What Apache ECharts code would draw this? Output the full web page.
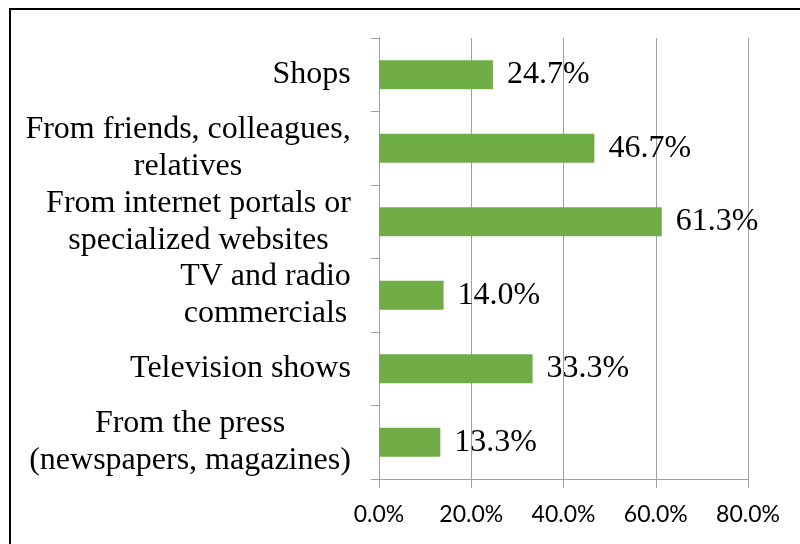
<!DOCTYPE html>
<html>
<head>
<meta charset="utf-8">
<script src="https://cdn.jsdelivr.net/npm/echarts@6/dist/echarts.min.js"></script>
<style>
  html, body { margin: 0; padding: 0; background: #fff; }
  #chart { width: 800px; height: 544px; }
</style>
</head>
<body>
<div id="chart"></div>
<script>
// Sources of information (share of respondents)
const categories = [
  'Shops',
  'From friends, colleagues,\nrelatives',
  'From internet portals or\nspecialized websites',
  'TV and radio\ncommercials',
  'Television shows',
  'From the press\n(newspapers, magazines)'
];
const values = [24.7, 46.7, 61.3, 14.0, 33.3, 13.3];
const xTicks = [0, 20, 40, 60, 80];

const serif = '"Liberation Serif", "Times New Roman", serif';
const labelSize = 32;

// Measure each label line so multi-line labels can be centred within their block
const ctx = document.createElement('canvas').getContext('2d');
ctx.font = labelSize + 'px ' + serif;
function blockWidth(text) {
  return Math.ceil(Math.max(...text.split('\n').map(l => ctx.measureText(l).width)));
}
const yData = categories.map((c, i) => {
  const w = blockWidth(c);
  const key = 'c' + i;
  return {
    value: c,
    textStyle: {
      rich: { [key]: { width: w, align: 'center', fontFamily: serif, fontSize: labelSize, lineHeight: 37, color: '#000' } }
    }
  };
});

const chart = echarts.init(document.getElementById('chart'), null, { renderer: 'canvas' });
chart.setOption({
  animation: false,
  backgroundColor: '#fff',
  grid: { left: 379, right: 52, top: 38, bottom: 65, containLabel: false },
  xAxis: {
    type: 'value',
    min: xTicks[0],
    max: xTicks[xTicks.length - 1],
    interval: 20,
    axisLine: { show: true, lineStyle: { color: '#a0a0a0', width: 1 } },
    axisTick: { show: true, length: 9, lineStyle: { color: '#a0a0a0' } },
    splitLine: { show: true, lineStyle: { color: '#a0a0a0', width: 1 } },
    axisLabel: {
      margin: 24,
      color: '#000',
      fontFamily: 'Lato, "Liberation Sans", sans-serif',
      fontSize: 23,
      formatter: v => v.toFixed(1) + '%'
    }
  },
  yAxis: {
    type: 'category',
    inverse: true,
    data: yData,
    axisLine: { show: true, lineStyle: { color: '#a0a0a0', width: 1 } },
    axisTick: { show: true, length: 8, lineStyle: { color: '#a0a0a0' } },
    axisLabel: {
      margin: 28,
      color: '#000',
      fontFamily: serif,
      fontSize: labelSize,
      lineHeight: 37,
      formatter: (v, i) => v.split('\n').map(l => '{c' + i + '|' + l + '}').join('\n')
    }
  },
  series: [{
    type: 'bar',
    data: values,
    barWidth: 29,
    itemStyle: { color: '#70ad47' },
    label: {
      show: true,
      position: 'right',
      distance: 14,
      color: '#000',
      fontFamily: serif,
      fontSize: labelSize,
      formatter: p => p.value.toFixed(1) + '%'
    }
  }],
  graphic: [{
    type: 'rect',
    shape: { x: 10, y: 9, width: 900, height: 700 },
    style: { fill: null, stroke: '#000', lineWidth: 2 },
    silent: true,
    z: 100
  }]
});
</script>
</body>
</html>
